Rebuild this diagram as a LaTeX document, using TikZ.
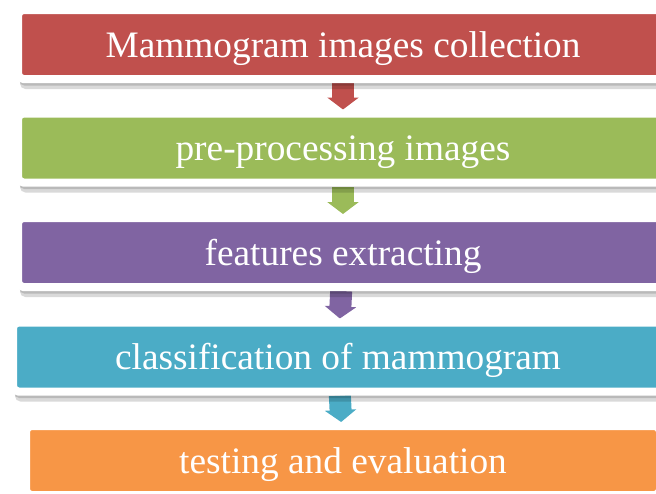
\documentclass[tikz,border=0pt]{standalone}
\usepackage{fontspec}
\setmainfont{Liberation Serif}
\usetikzlibrary{arrows.meta,shadows,backgrounds}
\definecolor{collred}{HTML}{C0504D}
\definecolor{prepgreen}{HTML}{9BBB59}
\definecolor{featpurple}{HTML}{8064A2}
\definecolor{clasblue}{HTML}{4BACC6}
\definecolor{evalorange}{HTML}{F79646}
\begin{document}
\begin{tikzpicture}[x=0.75pt, y=-0.75pt,
    stage/.style={rectangle, rounded corners=4pt, draw=white, line width=6pt,
      minimum width=487.5pt, minimum height=51.75pt, text=white,
      font=\fontsize{28}{30}\selectfont, text height=21pt, text depth=2pt,
      drop shadow={shadow xshift=1pt, shadow yshift=-5pt, opacity=0.15, fill=black},
      drop shadow={shadow xshift=1.5pt, shadow yshift=-7.5pt, opacity=0.15, fill=black}},
    flow/.style={line width=16.5pt, -{Triangle[length=9pt, width=23.25pt]}}]
    \clip (0,0) rectangle (656,493);
    \node [stage, fill=collred] (coll) at (343,44.5) {Mammogram images collection};
    \node [stage, fill=prepgreen] (prep) at (343,148) {pre-processing images};
    \node [stage, fill=featpurple] (feat) at (343,252.5) {features extracting};
    \node [stage, fill=clasblue] (clas) at (338,357) {classification of mammogram};
    \node [stage, fill=evalorange, minimum width=475.5pt] (eval) at (343,460.5) {testing and evaluation};
    % arrows go under the boxes
    \begin{scope}[on background layer]
        \draw [flow, collred] (coll) -- (prep);
        \draw [flow, prepgreen] (prep) -- (feat);
        \draw [flow, featpurple] (feat) -- (clas);
        \draw [flow, clasblue] (clas) -- (eval);
    \end{scope}
\end{tikzpicture}
\end{document}
